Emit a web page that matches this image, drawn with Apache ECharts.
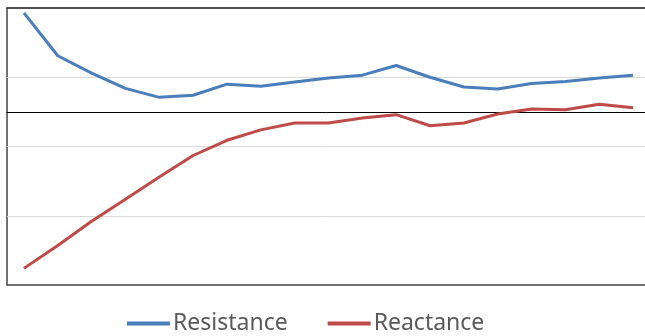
<!DOCTYPE html>
<html>
<head>
<meta charset="utf-8">
<script src="https://cdn.jsdelivr.net/npm/echarts@6/dist/echarts.min.js"></script>
<style>
  html, body { margin: 0; padding: 0; background: #fff; }
  #chart { width: 645px; height: 336px; }
</style>
</head>
<body>
<div id="chart"></div>
<script>
var categories = ['1','2','3','4','5','6','7','8','9','10','11','12','13','14','15','16','17','18','19'];
var resistance = [1.43, 0.81, 0.56, 0.34, 0.21, 0.24, 0.40, 0.37, 0.43, 0.49, 0.53, 0.67, 0.50, 0.36, 0.33, 0.41, 0.44, 0.49, 0.53];
var reactance = [-2.26, -1.93, -1.58, -1.26, -0.94, -0.63, -0.41, -0.26, -0.16, -0.16, -0.09, -0.04, -0.20, -0.16, -0.03, 0.04, 0.03, 0.11, 0.06];

var chart = echarts.init(document.getElementById('chart'));
chart.setOption({
  animation: false,
  grid: {
    left: 7, top: 8, width: 643, height: 277,
    outerBoundsMode: 'none',
    show: true, borderColor: '#444', borderWidth: 1.5,
    containLabel: false
  },
  legend: {
    top: 307,
    left: 122,
    itemWidth: 43,
    itemHeight: 4,
    itemGap: 40,
    icon: 'rect',
    textStyle: { fontFamily: 'Noto Sans', fontSize: 23, color: '#595959', padding: [0, 0, 0, -2] },
    data: ['Resistance', 'Reactance']
  },
  xAxis: [
    {
      type: 'category',
      data: categories,
      boundaryGap: true,
      axisLine: { onZero: true, lineStyle: { color: '#000', width: 1 } },
      axisTick: { show: false },
      axisLabel: { show: false },
      splitLine: { show: false }
    },
    {
      // top edge of the plot box
      type: 'category',
      data: categories,
      position: 'top',
      axisLine: { onZero: false, lineStyle: { color: '#444', width: 1.5 } },
      axisTick: { show: false },
      axisLabel: { show: false },
      splitLine: { show: false }
    }
  ],
  yAxis: {
    type: 'value',
    min: -2.5,
    max: 1.5,
    interval: 1,
    axisLine: { show: false },
    axisTick: { show: false },
    axisLabel: { show: false },
    splitLine: { showMinLine: false, showMaxLine: false, lineStyle: { color: '#d9d9d9', width: 1 } }
  },
  series: [
    {
      name: 'Resistance',
      type: 'line',
      data: resistance,
      showSymbol: false,
      itemStyle: { color: '#4a7ebb' },
      lineStyle: { color: '#4a7ebb', width: 3 }
    },
    {
      name: 'Reactance',
      type: 'line',
      data: reactance,
      showSymbol: false,
      itemStyle: { color: '#be4b48' },
      lineStyle: { color: '#be4b48', width: 3 }
    }
  ]
});
</script>
</body>
</html>
